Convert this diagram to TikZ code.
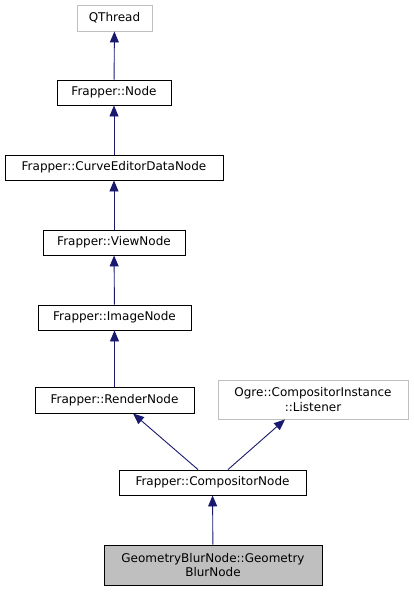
\documentclass[tikz,border=0pt]{standalone}
\usepackage{fontspec}
\setmainfont{DejaVu Sans}
\usetikzlibrary{arrows.meta,calc}
\definecolor{edgeblue}{HTML}{191970}
\definecolor{extgray}{HTML}{BFBFBF}
\tikzset{
    cls/.style =    {rectangle,
                    fill=white,
                    draw=black,
                    text=black,
                    line width=0.9pt,
                    inner sep=0pt,
                    align=center,
                    font=\fontsize{12}{14.5}\selectfont},
    ext/.style =    {cls,
                    draw=extgray},
    self/.style =   {cls,
                    fill=extgray},
    -,
    inherit/.style = {draw=edgeblue,
                    line width=0.9pt,
                    -{Triangle[length=11pt,width=9pt]}},
    >=stealth,
    shorten >= 0pt,
    shorten <= 0pt}

\begin{document}
\begin{tikzpicture}[x=1pt,y=-1pt]
            \useasboundingbox (0,0) rectangle (413,592);
            \node[ext,minimum width=75pt,minimum height=26pt]   (qthread) at (114.5,18)  {QThread};
            \node[cls,minimum width=114pt,minimum height=25pt]  (node) at (114,92.5)      {Frapper::Node};
            \node[cls,minimum width=218pt,minimum height=25pt]  (curve) at (114,167.5)    {Frapper::CurveEditorDataNode};
            \node[cls,minimum width=142pt,minimum height=25pt]  (view) at (114,242.5)     {Frapper::ViewNode};
            \node[cls,minimum width=153pt,minimum height=25pt]  (image) at (114.5,317.5)  {Frapper::ImageNode};
            \node[cls,minimum width=159pt,minimum height=26pt]  (render) at (114.5,400)   {Frapper::RenderNode};
            \node[ext,minimum width=190pt,minimum height=39pt]  (listener) at (313,399.5) {Ogre::CompositorInstance\\::Listener};
            \node[cls,minimum width=187pt,minimum height=25pt]  (comp) at (212.5,482.5)   {Frapper::CompositorNode};
            \node[self,minimum width=218pt,minimum height=40pt] (blur) at (213,565)       {GeometryBlurNode::Geometry\\BlurNode};
            \draw[inherit]  (node) -- (qthread);
            \draw[inherit]  (curve) -- (node);
            \draw[inherit]  (view) -- (curve);
            \draw[inherit]  (image) -- (view);
            \draw[inherit]  (render) -- (image);
            \draw[inherit]  ($(comp.north)+(-14.5,0)$) -- ($(render.south)+(18.5,0)$);
            \draw[inherit]  ($(comp.north)+(15.5,0)$) -- ($(listener.south)+(-28,0)$);
            \draw[inherit]  (blur) -- (comp);
        \end{tikzpicture}
\end{document}
